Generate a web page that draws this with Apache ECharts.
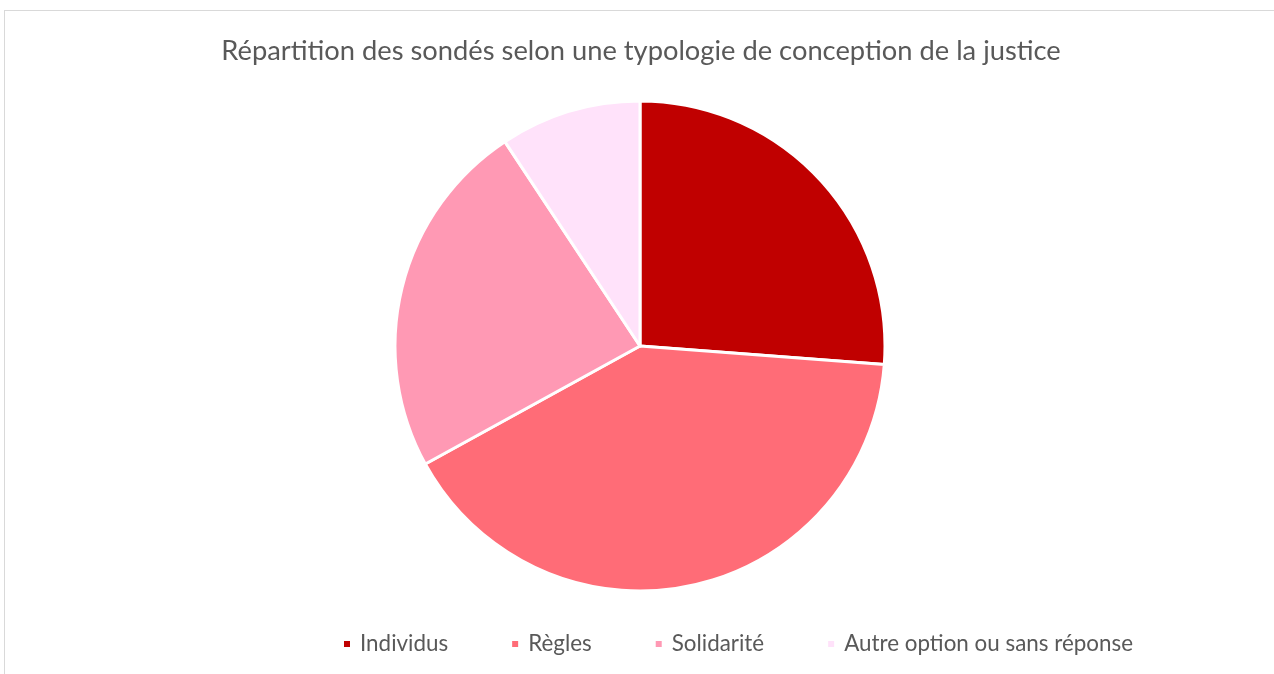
<!DOCTYPE html>
<html>
<head>
<meta charset="utf-8">
<script src="https://cdn.jsdelivr.net/npm/echarts@6/dist/echarts.min.js"></script>
<style>
  html, body { margin: 0; padding: 0; background: #fff; }
  #frame { position: absolute; left: 4px; top: 10px; width: 1300px; height: 700px; border: 1px solid #d9d9d9; box-sizing: border-box; }
  #chart { position: absolute; left: 0; top: 0; width: 1274px; height: 674px; }
</style>
</head>
<body>
<div id="frame"></div>
<div id="chart"></div>
<script>
// données (en %)
var categories = ['Individus', 'Règles', 'Solidarité', 'Autre option ou sans réponse']
var values = [26.2, 40.8, 23.7, 9.3]
var colors = ['#C00000', '#FF6C77', '#FF99B4', '#FFE2FA']
var titleText = 'Répartition des sondés selon une typologie de conception de la justice'

var chart = echarts.init(document.getElementById('chart'), null, { renderer: 'canvas' })
var option = {
  animation: false,
  color: colors,
  title: {
    text: titleText,
    left: 636,
    textAlign: 'center',
    top: 33,
    textStyle: {
      fontFamily: 'Lato',
      fontSize: 27.3,
      fontWeight: 'normal',
      color: '#595959'
    }
  },
  legend: {
    bottom: 14,
    left: 337,
    itemWidth: 8,
    itemHeight: 8,
    itemGap: 62,
    icon: 'rect',
    textStyle: {
      fontFamily: 'Lato',
      fontSize: 22.4,
      color: '#595959',
      padding: [0, 0, 0, 4]
    },
    data: categories
  },
  series: [
    {
      type: 'pie',
      center: [640, 346],
      radius: 245,
      startAngle: 90,
      clockwise: true,
      label: { show: false },
      labelLine: { show: false },
      itemStyle: { borderColor: '#fff', borderWidth: 3 },
      data: categories.map(function (c, i) {
        return { name: c, value: values[i] }
      })
    }
  ]
}
chart.setOption(option)
</script>
</body>
</html>
